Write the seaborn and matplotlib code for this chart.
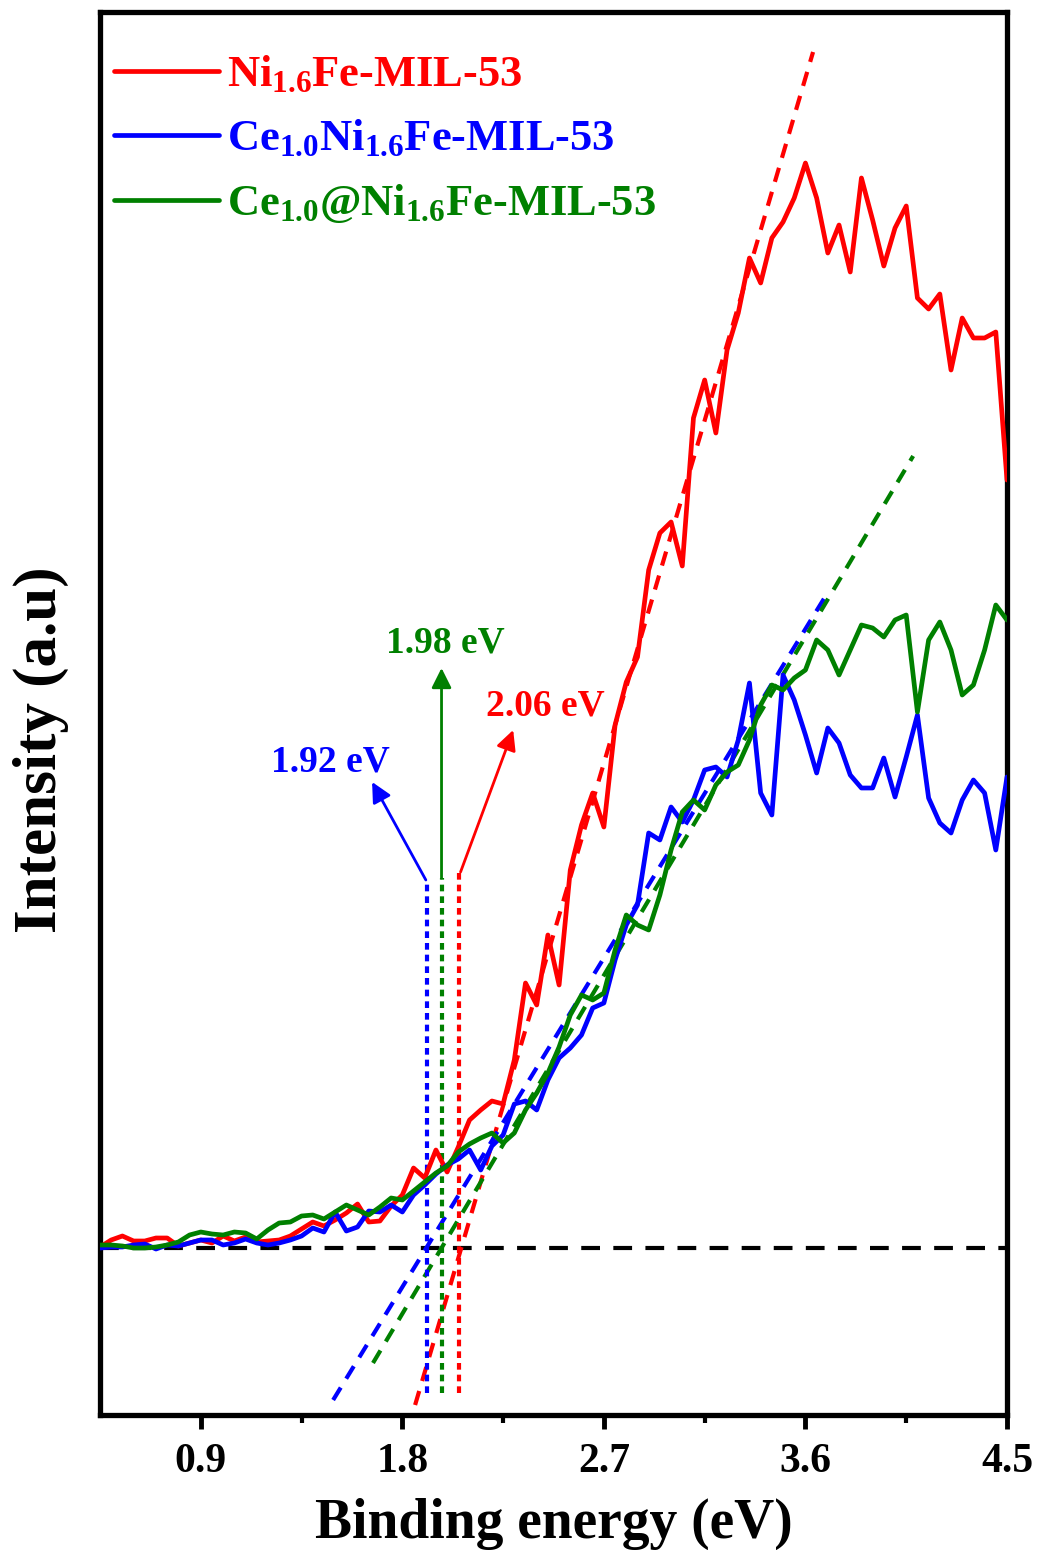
import numpy as np
import pandas as pd
import matplotlib
matplotlib.use("Agg")
import matplotlib.pyplot as plt
import seaborn as sns
from matplotlib.lines import Line2D

# ---------------- data ----------------
energy = [0.45,0.50,0.55,0.60,0.65,0.70,0.75,0.80,0.85,0.90,0.95,1.00,1.05,1.10,1.15,1.20,1.25,1.30,1.35,1.40,
          1.45,1.50,1.55,1.60,1.65,1.70,1.75,1.80,1.85,1.90,1.95,2.00,2.05,2.10,2.15,2.20,2.25,2.30,2.35,2.40,
          2.45,2.50,2.55,2.60,2.65,2.70,2.75,2.80,2.85,2.90,2.95,3.00,3.05,3.10,3.15,3.20,3.25,3.30,3.35,3.40,
          3.45,3.50,3.55,3.60,3.65,3.70,3.75,3.80,3.85,3.90,3.95,4.00,4.05,4.10,4.15,4.20,4.25,4.30,4.35,4.40,
          4.45,4.50]

ni_fe = [1,8,12,7,7,10,10,2,5,8,
         5,12,7,11,6,7,8,12,19,26,
         22,28,35,44,26,27,42,53,80,70,
         98,76,101,128,138,147,144,188,265,243,
         313,263,378,423,455,421,523,566,591,678,
         715,726,682,830,868,815,898,935,990,965,
         1010,1026,1050,1085,1050,995,1023,976,1070,1028,
         982,1020,1042,950,939,954,878,930,910,910,
         916,768]

ce_ni_fe = [0,1,1,3,4,-1,3,2,5,8,
            8,3,5,9,5,3,5,8,12,20,
            16,36,17,21,37,36,43,36,53,63,
            74,83,89,98,78,102,113,144,147,138,
            168,190,200,213,240,245,288,323,343,415,
            408,441,426,448,478,481,471,508,565,455,
            433,573,548,513,475,520,505,473,460,460,
            490,451,491,533,450,425,415,448,468,455,
            398,471]

ce_at_ni_fe = [3,3,2,0,0,1,3,6,13,16,
               14,13,16,15,9,18,25,26,32,33,
               29,36,43,38,33,41,50,48,57,66,
               75,82,96,104,110,115,105,115,138,155,
               175,201,233,253,248,255,298,333,323,318,
               353,398,436,448,438,463,476,483,508,543,
               563,558,570,578,608,598,573,598,623,620,
               611,628,633,536,608,626,598,553,563,598,
               643,628]

series_names = ["Ni$_{1.6}$Fe-MIL-53",
                "Ce$_{1.0}$Ni$_{1.6}$Fe-MIL-53",
                "Ce$_{1.0}$@Ni$_{1.6}$Fe-MIL-53"]
series_colors = ["#ff0000", "#0000ff", "#008000"]

# linear fits (tangent lines): endpoints in (eV, a.u.)
fit_red_x = [1.857, 3.634]
fit_red_y = [-157, 1196]
fit_blue_x = [1.491, 3.701]
fit_blue_y = [-152, 656]
fit_green_x = [1.669, 4.081]
fit_green_y = [-115, 792]

# band-gap values
gap_values = [1.91, 1.975, 2.055]          # blue, green, red marker positions
gap_labels = ["1.92 eV", "1.98 eV", "2.06 eV"]

xticks = [0.9, 1.8, 2.7, 3.6, 4.5]
minor_xticks = [1.35, 2.25, 3.15, 4.05]

# ---------------- styling ----------------
sns.set_style("ticks")
plt.rcParams['font.family'] = ['Liberation Serif', 'DejaVu Serif']
plt.rcParams['font.weight'] = 'bold'
plt.rcParams['text.color'] = 'black'
plt.rcParams['axes.labelcolor'] = 'black'
plt.rcParams['xtick.color'] = 'black'
plt.rcParams['ytick.color'] = 'black'
plt.rcParams['mathtext.fontset'] = 'custom'
plt.rcParams['mathtext.rm'] = 'Liberation Serif:bold'
plt.rcParams['mathtext.it'] = 'Liberation Serif:bold'
plt.rcParams['mathtext.bf'] = 'Liberation Serif:bold'

fig = plt.figure(figsize=(10.38, 15.5), dpi=100)
ax = fig.add_axes([100/1038, 1 - 1415/1550, (1007-100)/1038, (1415-12)/1550])

df = pd.DataFrame({
    "energy": energy * 3,
    "intensity": ni_fe + ce_ni_fe + ce_at_ni_fe,
    "sample": [series_names[0]] * len(energy) + [series_names[1]] * len(energy) + [series_names[2]] * len(energy),
})

sns.lineplot(data=df, x="energy", y="intensity", hue="sample",
             palette=dict(zip(series_names, series_colors)),
             estimator=None, sort=False, linewidth=3.4, ax=ax, legend=False, zorder=3)

# baseline
ax.axhline(0, color="black", lw=3.0, ls=(0, (4.5, 3.2)), zorder=2)

# tangent lines
for fx, fy, c in [(fit_red_x, fit_red_y, series_colors[0]),
                  (fit_blue_x, fit_blue_y, series_colors[1]),
                  (fit_green_x, fit_green_y, series_colors[2])]:
    sns.lineplot(x=fx, y=fy, color=c, lw=3.0, ax=ax, zorder=2)
    ax.lines[-1].set_linestyle((0, (3.5, 2.5)))

# vertical dotted markers
vcols = [series_colors[1], series_colors[2], series_colors[0]]
vtops = [368, 370, 376]
for gx, c, top in zip(gap_values, vcols, vtops):
    ax.plot([gx, gx], [-145, top], color=c, lw=3.0, ls=(0, (1.6, 1.2)), zorder=2)

# arrows
arrow_kw = dict(arrowstyle="-|>", lw=2.0, mutation_scale=30, shrinkA=0, shrinkB=0)
ax.annotate("", xy=(1.665, 466), xytext=(1.905, 368),
            arrowprops=dict(color=series_colors[1], **arrow_kw))
ax.annotate("", xy=(1.975, 580), xytext=(1.975, 370),
            arrowprops=dict(color=series_colors[2], **arrow_kw))
ax.annotate("", xy=(2.295, 518), xytext=(2.06, 376),
            arrowprops=dict(color=series_colors[0], **arrow_kw))

lab_fs = 27
ax.text(1.477, 486, gap_labels[0], color=series_colors[1], fontsize=lab_fs, fontweight="bold",
        ha="center", va="center")
ax.text(1.991, 605, gap_labels[1], color=series_colors[2], fontsize=lab_fs, fontweight="bold",
        ha="center", va="center")
ax.text(2.437, 542, gap_labels[2], color=series_colors[0], fontsize=lab_fs, fontweight="bold",
        ha="center", va="center")

# axes limits / ticks
ax.set_xlim(0.45, 4.5)
ax.set_ylim(-167, 1236)
ax.set_xticks(xticks)
ax.set_xticklabels([f"{t:.1f}" for t in xticks])
ax.set_xticks(minor_xticks, minor=True)
ax.set_yticks([])
ax.tick_params(axis="x", which="major", direction="out", length=10, width=3.5,
               labelsize=30, pad=10, colors="black")
ax.tick_params(axis="x", which="minor", direction="out", length=6, width=3.0, colors="black")
for lbl in ax.get_xticklabels():
    lbl.set_fontweight("bold")
for s in ax.spines.values():
    s.set_linewidth(3.8)
    s.set_color("black")

ax.set_xlabel("Binding energy (eV)", fontsize=40, fontweight="bold", labelpad=12, color="black")
ax.set_ylabel("Intensity (a.u)", fontsize=44, fontweight="bold", color="black")
ax.yaxis.set_label_coords(-0.034, 0.474)

# legend
handles = [Line2D([0], [0], color=c, lw=3.4) for c in series_colors]
leg = ax.legend(handles, series_names, loc="upper left", frameon=False,
                fontsize=32, handlelength=2.35, handletextpad=0.2,
                labelspacing=0.52, borderaxespad=0.0, borderpad=0.0,
                bbox_to_anchor=(0.0155, 0.970))
for t, c in zip(leg.get_texts(), series_colors):
    t.set_color(c)
    t.set_fontweight("bold")

fig.savefig("out.png", dpi=100)
